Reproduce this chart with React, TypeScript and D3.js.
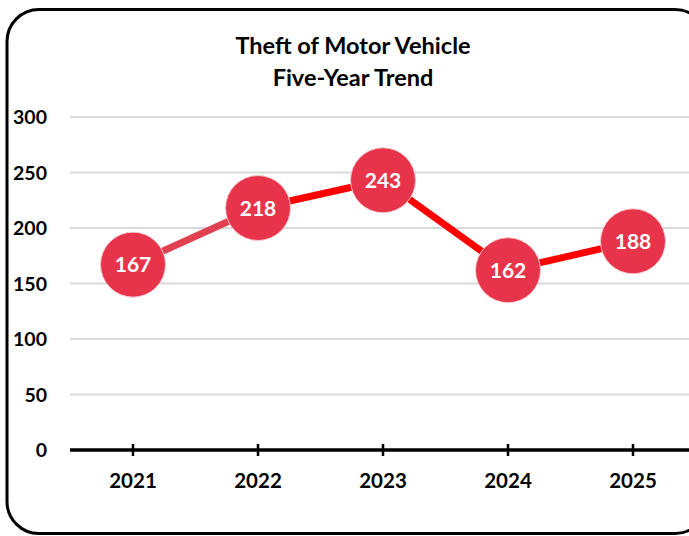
import React from "react";
import * as d3 from "d3";

const years = ["2021", "2022", "2023", "2024", "2025"];
const values = [167, 218, 243, 162, 188];
const segmentColors = ["#E0404F", "#FF0000", "#FF0000", "#FF0000"];
const yTicks = [0, 50, 100, 150, 200, 250, 300];
const titleLines = ["Theft of Motor Vehicle", "Five-Year Trend"];

const W = 689;
const H = 536;
const FONT = "Lato, 'Open Sans', sans-serif";

export default function App() {
  const x = d3.scalePoint<string>().domain(years).range([70.5, 695.5]).padding(0.5);
  const y = d3.scaleLinear().domain([0, 300]).range([450, 117]);
  const line = d3.line<[number, number]>();

  return (
    <svg
      width={W}
      height={H}
      style={{ position: "fixed", left: 0, top: 0, background: "#fff" }}
      fontFamily={FONT}
    >
      <rect x={7} y={9.5} width={700} height={524} rx={32} ry={32} fill="#fff" stroke="#000" strokeWidth={3} />
      {titleLines.map((t, i) => (
        <text key={i} x={353} y={54 + i * 32} textAnchor="middle" fontSize={23.5} fontWeight={700} fill="#000">
          {t}
        </text>
      ))}
      {yTicks.map((v) => (
        <g key={v}>
          {v > 0 && <line x1={70} x2={W} y1={y(v)} y2={y(v)} stroke="#d9d9d9" strokeWidth={2} />}
          <text x={47} y={y(v)} dy="0.36em" textAnchor="end" fontSize={19.5} fontWeight={700} fill="#000">
            {v}
          </text>
        </g>
      ))}
      <line x1={70} x2={W} y1={y(0)} y2={y(0)} stroke="#000" strokeWidth={3.5} />
      {years.map((yr) => (
        <g key={yr}>
          <line x1={x(yr)} x2={x(yr)} y1={y(0) - 6} y2={y(0) + 6} stroke="#000" strokeWidth={2.5} />
          <text x={x(yr)} y={481} dy="0.36em" textAnchor="middle" fontSize={20.5} fontWeight={700} fill="#000">
            {yr}
          </text>
        </g>
      ))}
      {values.slice(1).map((v, i) => (
        <path
          key={i}
          d={line([
            [x(years[i])!, y(values[i])],
            [x(years[i + 1])!, y(v)],
          ])!}
          stroke={segmentColors[i]}
          strokeWidth={7}
          fill="none"
        />
      ))}
      {values.map((v, i) => (
        <g key={i}>
          <circle cx={x(years[i])} cy={y(v)} r={32.5} fill="#E8344A" stroke="#f6c9cf" strokeWidth={1} />
          <text x={x(years[i])} y={y(v)} dy="0.36em" textAnchor="middle" fontSize={21} fontWeight={700} fill="#fff">
            {v}
          </text>
        </g>
      ))}
    </svg>
  );
}
